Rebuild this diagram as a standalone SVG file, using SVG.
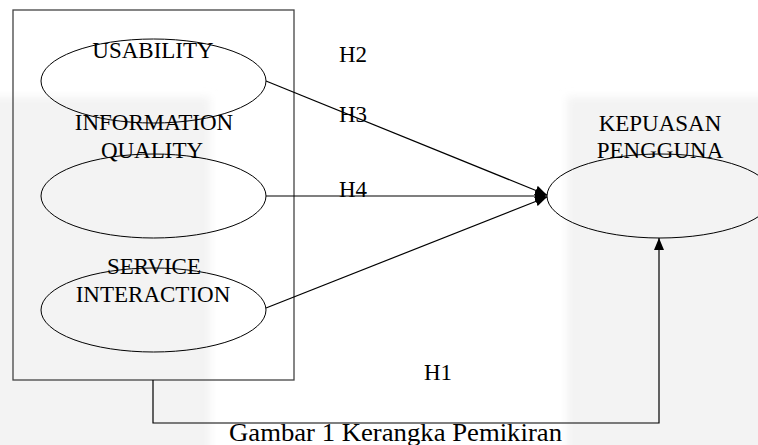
<svg xmlns="http://www.w3.org/2000/svg" width="758" height="445" viewBox="0 0 758 445">
<style>
.t{font-family:"Liberation Serif","Times New Roman",serif;font-size:23px;fill:#000}
.m{text-anchor:middle}
.e{fill:none;stroke:#000;stroke-width:1}
.c{fill:none;stroke:#000;stroke-width:1.2}
</style>
<defs>
<marker id="ah" markerUnits="userSpaceOnUse" markerWidth="12" markerHeight="10" refX="12" refY="5" orient="auto">
<path d="M0,0 L12,5 L0,10 z" fill="#000"/>
</marker>
<filter id="soft" x="-10%" y="-10%" width="120%" height="120%"><feGaussianBlur stdDeviation="4"/></filter>
</defs>
<rect x="0" y="0" width="758" height="445" fill="#fff"/>
<g filter="url(#soft)" fill="#f3f3f3">
<rect x="-20" y="97" width="230" height="370"/>
<rect x="567" y="97" width="211" height="370"/>
</g>
<g id="frame">
<rect x="13" y="10" width="281" height="370" fill="none" stroke="#444" stroke-width="1.3"/>
</g>
<g id="usability">
<ellipse class="e" cx="153.5" cy="81" rx="112.5" ry="42"/>
<text class="t m" x="153" y="58">USABILITY</text>
</g>
<g id="information-quality">
<ellipse class="e" cx="153.5" cy="196" rx="112.5" ry="42"/>
<text class="t m" x="154" y="130">INFORMATION</text>
<text class="t m" x="152" y="158">QUALITY</text>
</g>
<g id="service-interaction">
<ellipse class="e" cx="153.5" cy="310" rx="112.5" ry="42"/>
<text class="t m" x="154" y="274">SERVICE</text>
<text class="t m" x="153" y="302">INTERACTION</text>
</g>
<g id="kepuasan-pengguna">
<ellipse class="e" cx="660" cy="196" rx="113" ry="42"/>
<text class="t m" x="660" y="131">KEPUASAN</text>
<text class="t m" x="660" y="158">PENGGUNA</text>
</g>
<g id="connectors">
<line class="c" x1="266" y1="81" x2="547" y2="195" marker-end="url(#ah)"/>
<line class="c" x1="266" y1="196" x2="547" y2="196" marker-end="url(#ah)"/>
<line class="c" x1="266" y1="308" x2="547" y2="197" marker-end="url(#ah)"/>
<polyline class="c" points="153,380 153,423 659,423 659,238" marker-end="url(#ah)"/>
</g>
<g id="labels">
<text class="t" x="339" y="62">H2</text>
<text class="t" x="339" y="122">H3</text>
<text class="t" x="339" y="197">H4</text>
<text class="t" x="424" y="380">H1</text>
</g>
<text class="t" x="229" y="441" style="font-size:25px" textLength="333" lengthAdjust="spacingAndGlyphs">Gambar 1 Kerangka Pemikiran</text>
</svg>
